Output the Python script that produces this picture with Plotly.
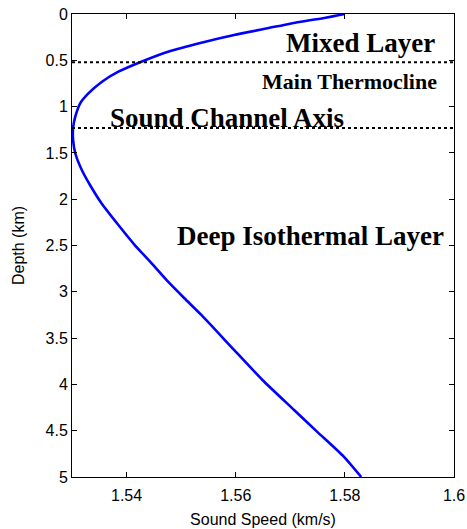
import plotly.graph_objects as go

# Sound speed profile
depth_km = [0, 0.04, 0.083, 0.155, 0.227, 0.31, 0.407, 0.515, 0.623, 0.731, 0.857,
            0.964, 1.109, 1.23, 1.36, 1.504, 1.685, 1.847, 2.044, 2.279, 2.495,
            2.692, 2.891, 3.07, 3.25, 3.628, 3.952, 4.276, 4.51, 4.78, 5.0]
speed_kms = [1.5800, 1.5765, 1.5719, 1.5658, 1.5597, 1.5537, 1.5476, 1.5427, 1.5385,
             1.5355, 1.5330, 1.5315, 1.5306, 1.5302, 1.5302, 1.5306, 1.5318,
             1.5333, 1.5354, 1.5385, 1.5415, 1.5446, 1.5476, 1.5506, 1.5537,
             1.5597, 1.5649, 1.5707, 1.5749, 1.5798, 1.5830]

layer_bounds_km = [0.52, 1.23]
layer_labels = ["Mixed Layer", "Main Thermocline", "Sound Channel Axis", "Deep Isothermal Layer"]

x_ticks = [1.54, 1.56, 1.58, 1.6]
x_ticklabels = ["1.54", "1.56", "1.58", "1.6"]
y_ticks = [0, 0.5, 1, 1.5, 2, 2.5, 3, 3.5, 4, 4.5, 5]
y_ticklabels = ["0", "0.5", "1", "1.5", "2", "2.5", "3", "3.5", "4", "4.5", "5"]

fig = go.Figure()
fig.add_trace(go.Scatter(x=speed_kms, y=depth_km, mode="lines",
                         line=dict(color="#0000ff", width=2.6, shape="spline", smoothing=0.6),
                         showlegend=False, hoverinfo="skip"))

for d in layer_bounds_km:
    fig.add_shape(type="line", xref="paper", x0=0, x1=1, yref="y", y0=d, y1=d,
                  line=dict(color="black", width=2, dash="dot"))

serif = "Liberation Serif, Times New Roman, serif"
fig.add_annotation(x=1.5968, y=0.31, text="<b>%s</b>" % layer_labels[0], showarrow=False,
                   xanchor="right", yanchor="middle", font=dict(family=serif, size=27, color="black"))
fig.add_annotation(x=1.5973, y=0.73, text="<b>%s</b>" % layer_labels[1], showarrow=False,
                   xanchor="right", yanchor="middle", font=dict(family=serif, size=22, color="black"))
fig.add_annotation(x=1.5366, y=1.12, text="<b>%s</b>" % layer_labels[2], showarrow=False,
                   xanchor="left", yanchor="middle", font=dict(family=serif, size=27, color="black"))
fig.add_annotation(x=1.5985, y=2.40, text="<b>%s</b>" % layer_labels[3], showarrow=False,
                   xanchor="right", yanchor="middle", font=dict(family=serif, size=27, color="black"))

sans = "Liberation Sans, Arial, sans-serif"
fig.update_layout(
    width=467, height=529,
    margin=dict(l=72, r=13, t=14, b=52),
    paper_bgcolor="white", plot_bgcolor="white",
    font=dict(family=sans, size=16, color="black"),
    xaxis=dict(range=[1.53, 1.6], tickvals=x_ticks, ticktext=x_ticklabels, automargin=False,
               ticks="inside", ticklen=5, tickcolor="black", mirror="ticks",
               showline=True, linecolor="black", linewidth=1, showgrid=False, zeroline=False,
               ticklabelstandoff=4, ticklabeloverflow="allow",
               title=dict(text="Sound Speed (km/s)", font=dict(size=16), standoff=10),
               tickfont=dict(size=16)),
    yaxis=dict(range=[5, 0], tickvals=y_ticks, ticktext=y_ticklabels, automargin=False,
               ticks="inside", ticklen=5, tickcolor="black", mirror="ticks",
               showline=True, linecolor="black", linewidth=1, showgrid=False, zeroline=False,
               ticklabeloverflow="allow",
               title=dict(text="Depth (km)", font=dict(size=16), standoff=16),
               tickfont=dict(size=16)),
)

fig.write_html("out.html", config={"displayModeBar": False},
               post_script="document.body.style.margin='0';")
